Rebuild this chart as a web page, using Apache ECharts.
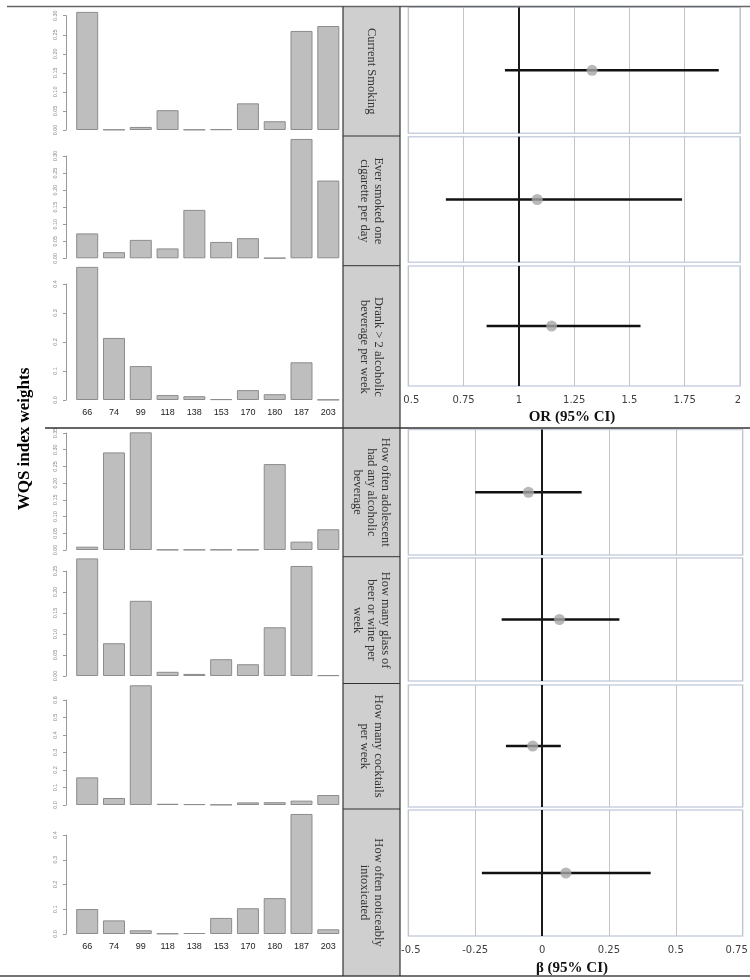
<!DOCTYPE html>
<html><head><meta charset="utf-8">
<script src="https://cdn.jsdelivr.net/npm/echarts@6/dist/echarts.min.js"></script>
<style>html,body{margin:0;padding:0;background:#fff}#c{width:750px;height:980px}</style>
</head><body><div id="c"></div>
<script>
// ---- data ----
const categories = ['66','74','99','118','138','153','170','180','187','203'];
const wCurrentSmoking = [0.310,0.001,0.008,0.052,0.001,0.002,0.070,0.023,0.260,0.273];
const wEverSmoked     = [0.073,0.018,0.054,0.029,0.142,0.048,0.059,0.001,0.350,0.228];
const wDrank          = [0.459,0.214,0.117,0.017,0.013,0.003,0.034,0.020,0.130,0.001];
const wOftenAny       = [0.010,0.292,0.352,0.001,0.001,0.001,0.001,0.257,0.025,0.062];
const wBeerWine       = [0.280,0.078,0.179,0.010,0.005,0.040,0.028,0.116,0.262,0.002];
const wCocktails      = [0.158,0.040,0.684,0.007,0.005,0.002,0.015,0.016,0.025,0.057];
const wIntox          = [0.101,0.055,0.015,0.002,0.004,0.065,0.104,0.145,0.485,0.019];
const yTickMax  = [0.30,0.30,0.4,0.35,0.25,0.6,0.4];
const yTickStep = [0.05,0.05,0.1,0.05,0.05,0.1,0.1];

const orLabels = ['Current Smoking','Ever smoked one\ncigarette per day','Drank > 2 alcoholic\nbeverage per week'];
const orEst  = [1.331,1.083,1.148];
const orLow  = [0.937,0.670,0.854];
const orHigh = [1.904,1.738,1.550];
const orRange = [0.5,2];

const betaLabels = ['How often adolescent\nhad any alcoholic\nbeverage','How many glass of\nbeer or wine per\nweek','How many cocktails\nper week','How often noticeably\nintoxicated'];
const betaEst  = [-0.051,0.065,-0.035,0.089];
const betaLow  = [-0.250,-0.151,-0.135,-0.225];
const betaHigh = [0.148,0.289,0.070,0.406];
const betaRange = [-0.5,0.75];

// ---- layout ----
const barPanels = [wCurrentSmoking,wEverSmoked,wDrank,wOftenAny,wBeerWine,wCocktails,wIntox];
const yTop  = [15.7,156,284,433,571,700,835];
const yZero = [130,258.3,400,550,676,805,934];
const showX = [false,false,true,false,false,false,true];
const orBoxes = [[7.3,133.3],[136.7,262.3],[266,386]];
const betaBoxes = [[429.5,555],[558,681],[685,807],[810,936]];
const orCells = [[6.5,136],[136,265.7],[265.7,428]];
const betaCells = [[428,556.7],[556.7,683.5],[683.5,809],[809,976]];

const grids=[], xAxes=[], yAxes=[], series=[];
barPanels.forEach((vals,i)=>{
  const dec = yTickStep[i] < 0.1 ? 2 : 1;
  grids.push({left:73.8, width:267.9, top:yTop[i], height:yZero[i]-yTop[i], outerBoundsMode:'none'});
  xAxes.push({type:'category', gridIndex:i, data:categories, axisLine:{show:false}, axisTick:{show:false},
    axisLabel:{show:showX[i], fontFamily:'Liberation Sans', fontSize:9, color:'#222', margin:8}});
  yAxes.push({type:'value', gridIndex:i, min:0, max:yTickMax[i], interval:yTickStep[i], offset:7.8,
    splitLine:{show:false}, axisLine:{show:true, lineStyle:{color:'#999', width:1}},
    axisTick:{show:true, length:3, lineStyle:{color:'#999'}},
    axisLabel:{rotate:90, fontSize:5.5, color:'#888', margin:8, fontFamily:'Liberation Sans', formatter:v=>v.toFixed(dec)}});
  series.push({type:'bar', xAxisIndex:i, yAxisIndex:i, data:vals, barWidth:22, clip:false, silent:true,
    itemStyle:{color:'#bebebe', borderColor:'#8c8c8c', borderWidth:1}});
});

function addForest(est, lo, hi, boxes, xr, right, ref, padL, padR){
  est.forEach((e,k)=>{
    const gi = grids.length;
    const last = k === est.length-1;
    const tf = {fontFamily:'DejaVu Sans', fontSize:10, color:'#404040'};
    grids.push({left:408.3, top:boxes[k][0], width:right-408.3, height:boxes[k][1]-boxes[k][0], show:true,
      borderColor:'#c9d1e1', borderWidth:1.5, backgroundColor:'#fff', outerBoundsMode:'none'});
    xAxes.push({type:'value', gridIndex:gi, min:xr[0], max:xr[1], interval:0.25, axisLine:{show:false}, axisTick:{show:false},
      splitLine:{show:true, lineStyle:{color:'#c4c4c4', width:1}},
      axisLabel:Object.assign({show:last, margin:9,
        formatter:v=> v===xr[0] ? '{l|'+v+'}' : (v===xr[1] ? '{r|'+v+'}' : '{m|'+v+'}'),
        rich:{l:Object.assign({padding:[0,0,0,padL]},tf), r:Object.assign({padding:[0,padR,0,0]},tf), m:tf}}, tf)});
    yAxes.push({type:'value', gridIndex:gi, min:0, max:1, show:false});
    series.push({type:'line', xAxisIndex:gi, yAxisIndex:gi, data:[[lo[k],0.5],[hi[k],0.5]], symbol:'none', silent:true,
      lineStyle:{color:'#111', width:2.6}, z:3,
      markLine:{silent:true, symbol:'none', label:{show:false}, lineStyle:{color:'#1a1a1a', width:2, type:'solid'}, data:[{xAxis:ref}]}});
    series.push({type:'scatter', xAxisIndex:gi, yAxisIndex:gi, data:[[e,0.5]], symbol:'circle', symbolSize:11, silent:true,
      itemStyle:{color:'#a6a6a6'}, z:4});
  });
}
addForest(orEst, orLow, orHigh, orBoxes, orRange, 740, 1, 6, 4);
addForest(betaEst, betaLow, betaHigh, betaBoxes, betaRange, 742.7, 0, 5, 12);

// ---- decorations ----
const graphic = [];
graphic.push({type:'rect', shape:{x:343, y:6.5, width:57, height:969.5}, style:{fill:'#cfcfcf'}, z:1});
const ln = (x1,y1,x2,y2,c,w)=>graphic.push({type:'line', shape:{x1,y1,x2,y2}, style:{stroke:c, lineWidth:w}, z:10});
ln(7,6.5,750,6.5,'#666',1.5);
ln(45,428,750,428,'#333',1.5);
ln(0,976,750,976,'#444',1.5);
ln(343,6.5,343,976,'#333',1.2);
ln(400,6.5,400,976,'#333',1.2);
orCells.slice(0,-1).forEach(c=>ln(343,c[1],400,c[1],'#333',1));
betaCells.slice(0,-1).forEach(c=>ln(343,c[1],400,c[1],'#333',1));
const cellText = (t,cy)=>graphic.push({type:'text', x:371.5, y:cy, rotation:-Math.PI/2, z:11,
  style:{text:t, font:'12.5px "Liberation Serif"', fill:'#333', textAlign:'center', textVerticalAlign:'middle', lineHeight:14}});
orLabels.forEach((t,k)=>cellText(t,(orCells[k][0]+orCells[k][1])/2));
betaLabels.forEach((t,k)=>cellText(t,(betaCells[k][0]+betaCells[k][1])/2));
graphic.push({type:'text', x:25, y:439, rotation:Math.PI/2, z:11,
  style:{text:'WQS index weights', font:'bold 17px "Liberation Serif"', fill:'#000', textAlign:'center', textVerticalAlign:'middle'}});
graphic.push({type:'text', x:572, y:417, z:11,
  style:{text:'OR (95% CI)', font:'bold 15px "Liberation Serif"', fill:'#111', textAlign:'center', textVerticalAlign:'middle'}});
graphic.push({type:'text', x:572, y:968, z:11,
  style:{text:'β (95% CI)', font:'bold 15px "Liberation Serif"', fill:'#111', textAlign:'center', textVerticalAlign:'middle'}});

const chart = echarts.init(document.getElementById('c'), null, {renderer:'canvas'});
chart.setOption({animation:false, backgroundColor:'#fff', grid:grids, xAxis:xAxes, yAxis:yAxes, series, graphic});
</script></body></html>
